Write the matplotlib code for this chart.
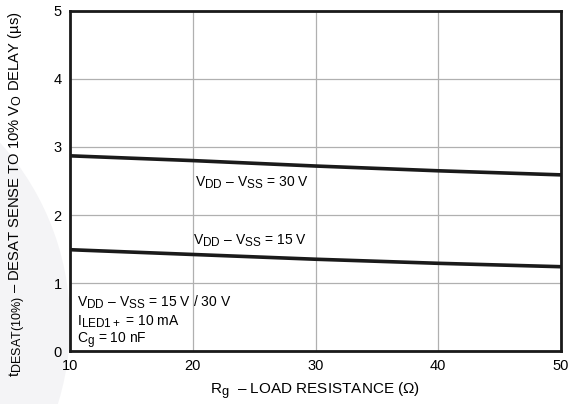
import matplotlib
matplotlib.use("Agg")
import matplotlib.pyplot as plt
import matplotlib._mathtext as mt
from matplotlib.patches import Circle

plt.rcParams['font.family'] = ['Liberation Sans', 'DejaVu Sans']
plt.rcParams['mathtext.fontset'] = 'custom'
plt.rcParams['mathtext.rm'] = 'Liberation Sans'
plt.rcParams['mathtext.it'] = 'Liberation Sans'
# subscripts in the datasheet style are barely smaller than the main text
mt.SHRINK_FACTOR = 0.85

# data
rg = [10, 20, 30, 40, 50]
delay_30v = [2.87, 2.80, 2.72, 2.65, 2.59]
delay_15v = [1.49, 1.42, 1.35, 1.29, 1.24]

x_ticks = [10, 20, 30, 40, 50]
y_ticks = [0, 1, 2, 3, 4, 5]

fig = plt.figure(figsize=(5.69, 4.04), dpi=100)
# faint watermark arc on the left
fig.patches.append(Circle((-200, 80), 270, transform=None, facecolor="#f4f4f6",
                          edgecolor="none", zorder=-5))
ax = fig.add_axes([0.123, 0.131, 0.863, 0.842])

ax.plot(rg, delay_30v, color="#1a1a1a", linewidth=2.6, solid_capstyle="butt", zorder=3)
ax.plot(rg, delay_15v, color="#1a1a1a", linewidth=2.6, solid_capstyle="butt", zorder=3)

ax.set_xlim(10, 50)
ax.set_ylim(0, 5)
ax.set_xticks(x_ticks)
ax.set_yticks(y_ticks)
ax.grid(True, color="#b0b0b0", linewidth=0.9)
ax.tick_params(length=0, labelsize=10.5, pad=6)
for s in ax.spines.values():
    s.set_linewidth(2.0)
    s.set_color("#1a1a1a")

fs = 10
ax.text(20.2, 2.47, r"V$_{\mathregular{DD}}$ – V$_{\mathregular{SS}}$ = 30 V", fontsize=fs, va="center")
ax.text(20.0, 1.62, r"V$_{\mathregular{DD}}$ – V$_{\mathregular{SS}}$ = 15 V", fontsize=fs, va="center")
ax.text(10.6, 0.72, r"V$_{\mathregular{DD}}$ – V$_{\mathregular{SS}}$ = 15 V / 30 V", fontsize=fs, va="center")
ax.text(10.6, 0.43, r"I$_{\mathregular{LED1+}}$ = 10 mA", fontsize=fs, va="center")
ax.text(10.6, 0.16, r"C$_{\mathregular{g}}$ = 10 nF", fontsize=fs, va="center")

ax.set_xlabel(r"R$_{\mathregular{g}}$  – LOAD RESISTANCE (Ω)", fontsize=11, labelpad=5)
ax.set_ylabel(r"t$_{\mathregular{DESAT(10\%)}}$ – DESAT SENSE TO 10% V$_{\mathregular{O}}$ DELAY (µs)",
              fontsize=10.6, va="center")
ax.yaxis.set_label_coords(-0.108, 0.46)

fig.savefig("out.png", dpi=100)
